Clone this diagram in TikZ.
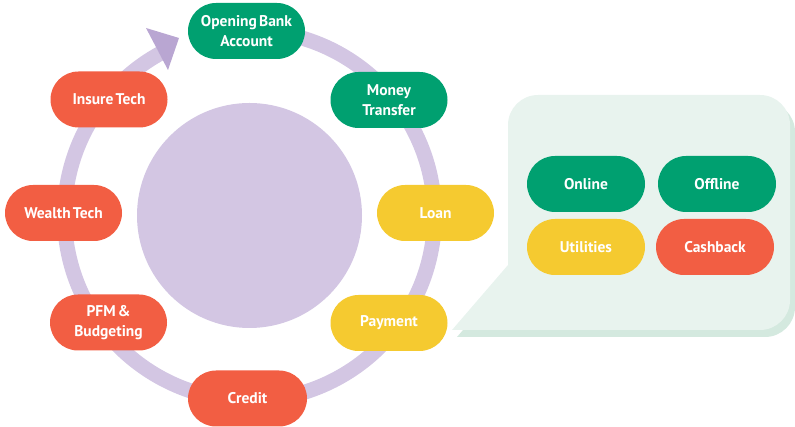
\documentclass[tikz,border=0pt]{standalone}
\usepackage{fontspec}
\setmainfont{PT Sans}[WordSpace=0.55]
\usetikzlibrary{positioning,calc}
\definecolor{ringc}{HTML}{D3C6E3}
\definecolor{arrowc}{HTML}{B9A6D2}
\definecolor{greenc}{HTML}{00A070}
\definecolor{yellowc}{HTML}{F5CA30}
\definecolor{redc}{HTML}{F25E43}
\definecolor{panelc}{HTML}{E8F3EE}
\definecolor{shadowc}{HTML}{D4E9DF}
\tikzset{
  pill/.style={rounded corners=28pt, minimum width=117pt, minimum height=56pt,
    inner sep=0pt, text=white, align=center,
    font=\fontsize{15.5}{20}\selectfont\bfseries},
  gpill/.style={pill, fill=greenc},
  ypill/.style={pill, fill=yellowc},
  rpill/.style={pill, fill=redc},
}
\begin{document}
\begin{tikzpicture}[x=1pt,y=1pt]
\useasboundingbox (0,0) rectangle (795,427);
% ring
\coordinate (c) at (249.5,211.5);
\fill[ringc] (c) circle[radius=112.5];
\draw[ringc, line width=15pt] ($(c)+(90:185)$) arc[start angle=90, end angle=-241, radius=185];
\fill[arrowc] (146,399) -- (179,389) -- (168,357) -- cycle;
% panel
\fill[shadowc, shift={(5,-7)}] (452,97) -- (508,162) -- (508,302) arc[start angle=180,end angle=90,radius=30]
  -- (760,332) arc[start angle=90,end angle=0,radius=30] -- (790,127) arc[start angle=0,end angle=-90,radius=30] -- cycle;
\fill[panelc] (452,97) -- (508,162) -- (508,302) arc[start angle=180,end angle=90,radius=30]
  -- (760,332) arc[start angle=90,end angle=0,radius=30] -- (790,127) arc[start angle=0,end angle=-90,radius=30] -- cycle;
% ring nodes
\node[gpill] (open) at (246.5,396) {Opening Bank\\Account};
\node[gpill] (money) at (389,327) {Money\\Transfer};
\node[ypill] (loan) at (435.5,214) {Loan};
\node[ypill] (pay) at (389,104) {Payment};
\node[rpill, minimum width=119pt] (credit) at (247.5,28.5) {Credit};
\node[rpill] (pfm) at (108.5,104.5) {PFM \&\\Budgeting};
\node[rpill] (wealth) at (63.5,214) {Wealth Tech};
\node[rpill] (insure) at (109,327.5) {Insure Tech};
% panel nodes
\node[gpill, minimum width=118pt] (online) at (586,243) {Online};
\node[gpill, minimum width=118pt] (offline) at (717,243) {Offline};
\node[ypill, minimum width=118pt] (util) at (586,180) {Utilities};
\node[rpill, minimum width=118pt] (cash) at (715,180) {Cashback};
\end{tikzpicture}
\end{document}
